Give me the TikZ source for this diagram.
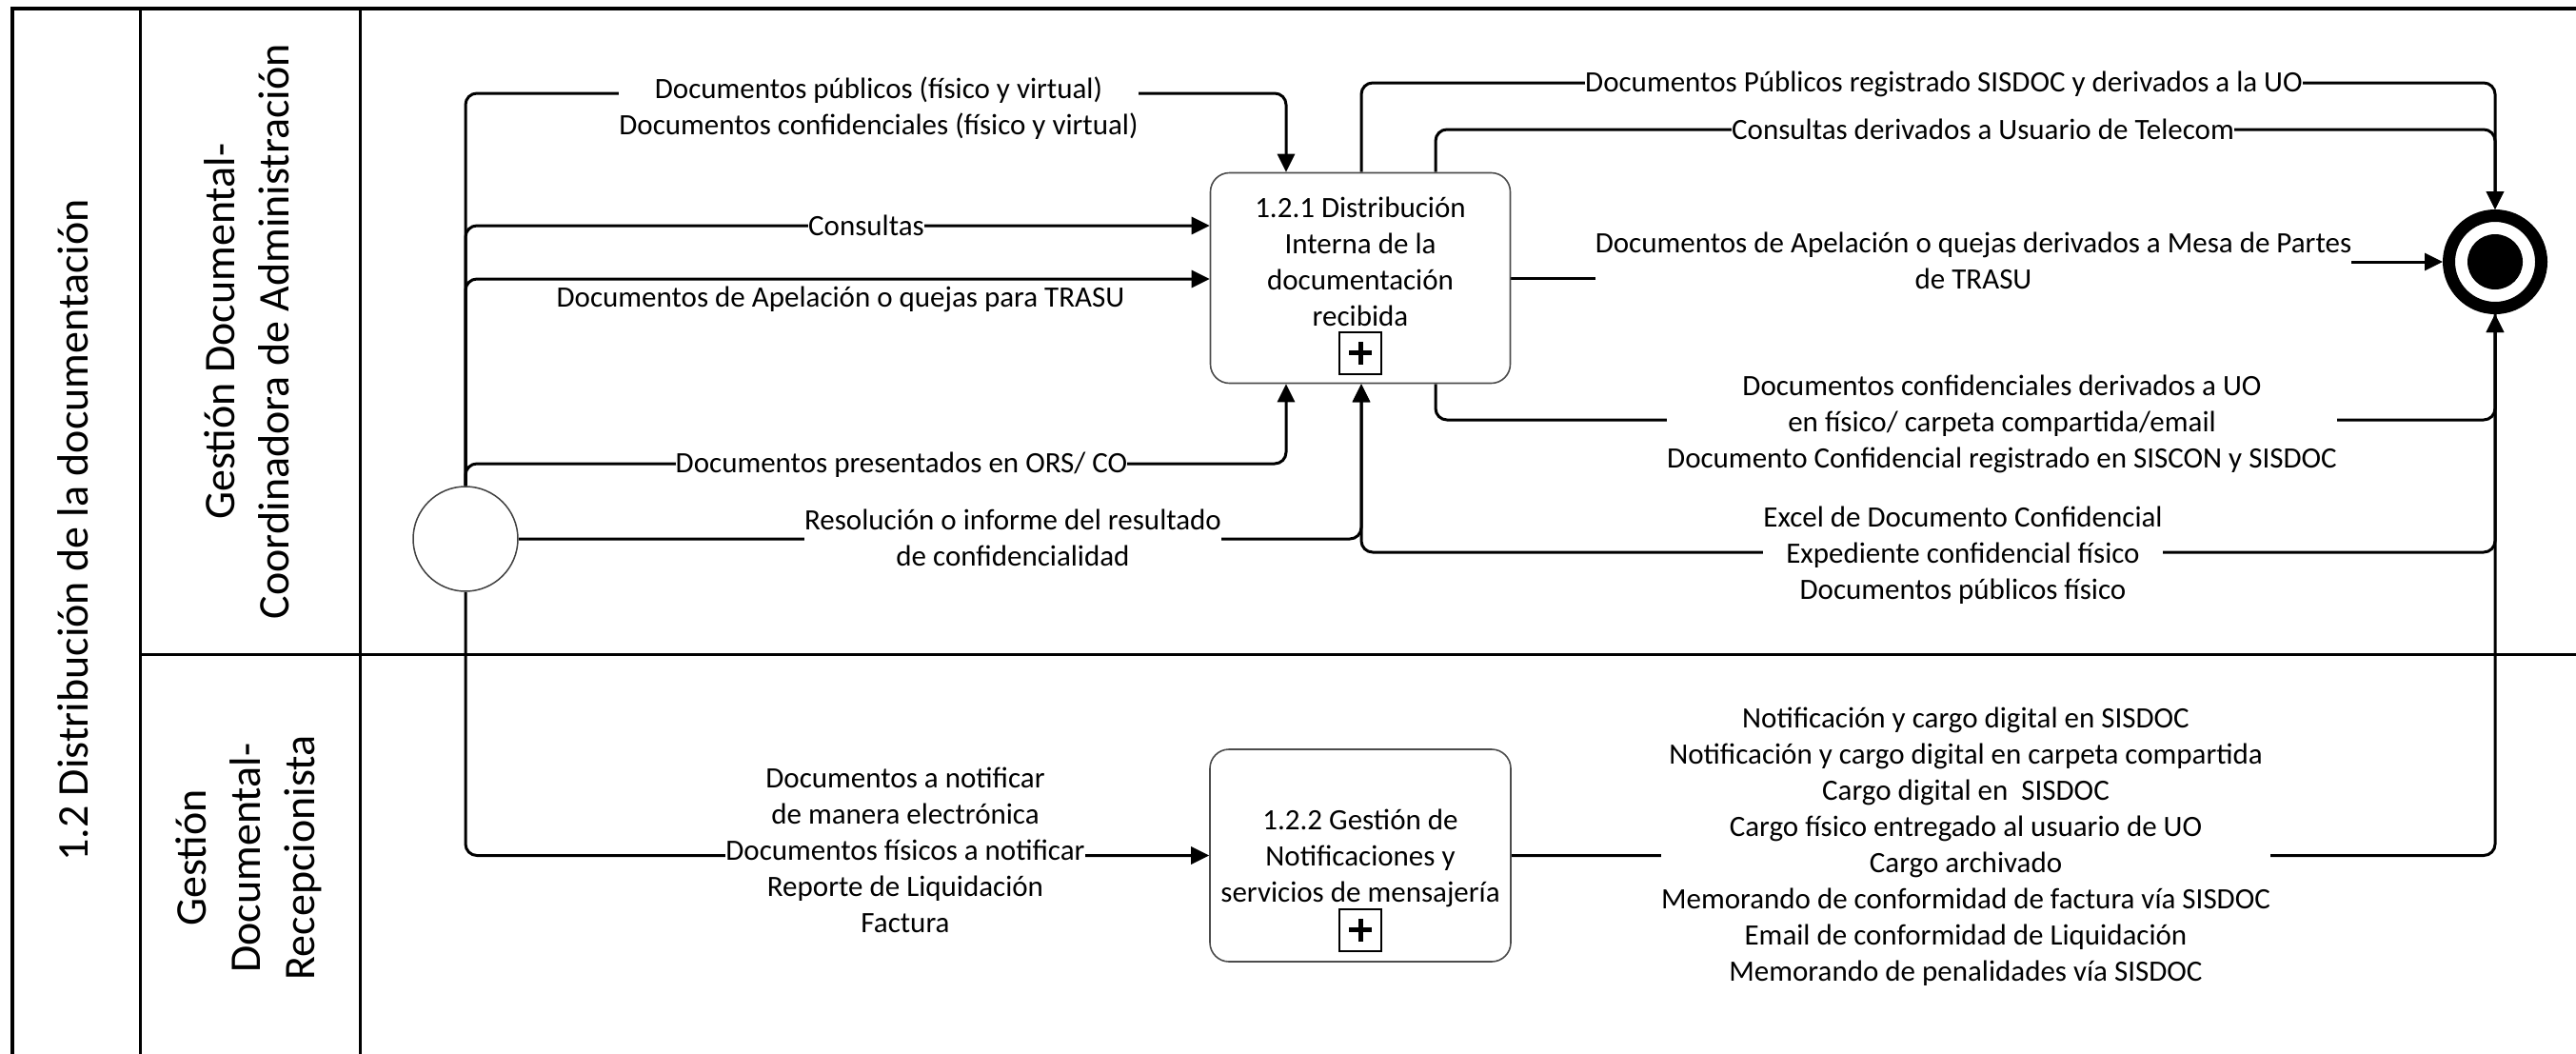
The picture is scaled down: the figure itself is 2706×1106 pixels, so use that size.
\documentclass[tikz,border=0pt]{standalone}
\usepackage{fontspec}
\setmainfont{Carlito}
\usetikzlibrary{arrows.meta}
\pgfdeclarelayer{background}
\pgfsetlayers{background,main}
\begin{document}
\begin{tikzpicture}[x=1pt,y=-1pt,
  >={Triangle[length=19pt,width=18pt]},
  frameline/.style={line width=3pt,black},
  flow/.style={line width=3pt,rounded corners=12pt},
  arr/.style={->},
  lbl/.style={fill=white,inner xsep=0pt,inner ysep=1pt,align=center,
    font=\fontsize{31}{38}\selectfont},
  plainlbl/.style={inner sep=0pt,align=center,font=\fontsize{31}{38}\selectfont},
  lanetxt/.style={rotate=90,inner sep=0pt,align=center,font=\fontsize{46}{57}\selectfont},
  task/.style={draw=black!70,line width=1.6pt,rounded corners=20pt,
    minimum width=315pt,minimum height=221pt,inner sep=0pt},
  plusbox/.style={draw=black,line width=2pt,minimum size=44pt,inner sep=0pt},
  plusbar/.style={line width=5pt}
]
\useasboundingbox (0,0) rectangle (2706,1106);

% ---------- nodes ----------
\node[circle,draw=black!75,line width=1.5pt,minimum size=110pt,inner sep=0pt] (start) at (489,566) {};
\node[circle,draw=black,line width=13pt,minimum size=97pt,inner sep=0pt] (end) at (2621,275) {};
\node[circle,fill=black,minimum size=58pt,inner sep=0pt] (enddot) at (2621,275) {};

\node[task] (box1) at (1429,292) {};
\node[plainlbl] (box1t) at (1429,275) {1.2.1 Distribución\\Interna de la\\documentación\\recibida};
\node[plusbox] (plus1) at (1429,370.5) {};
\draw[plusbar] ([xshift=-12pt]plus1.center) -- ([xshift=12pt]plus1.center);
\draw[plusbar] ([yshift=-12pt]plus1.center) -- ([yshift=12pt]plus1.center);

\node[task,minimum width=316pt,minimum height=223pt] (box2) at (1429,898.5) {};
\node[plainlbl] (box2t) at (1429,901) {1.2.2 Gestión de\\Notificaciones y\\servicios de mensajería};
\node[plusbox] (plus2) at (1429,976.5) {};
\draw[plusbar] ([xshift=-12pt]plus2.center) -- ([xshift=12pt]plus2.center);
\draw[plusbar] ([yshift=-12pt]plus2.center) -- ([yshift=12pt]plus2.center);

% lane titles
\node[lanetxt] (title) at (77,557) {1.2 Distribución de la documentación};
\node[lanetxt] (lane1) at (259,348) {Gestión Documental-\\Coordinadora de Administración};
\node[lanetxt] (lane2) at (261,901) {Gestión\\Documental-\\Recepcionista};

% labels
\node[lbl] (L1) at (923,114) {Documentos públicos (físico y virtual)\\Documentos confidenciales (físico y virtual)};
\node[lbl] (L2) at (910,237) {Consultas};
\node[plainlbl] (L3) at (883,314) {Documentos de Apelación o quejas para TRASU};
\node[lbl] (L4) at (947,488) {Documentos presentados en ORS/ CO};
\node[lbl] (L5) at (1064,564.5) {Resolución o informe del resultado\\de confidencialidad};
\node[lbl] (L6) at (2042,88) {Documentos Públicos registrado SISDOC y derivados a la UO};
\node[lbl] (L7) at (2083,136) {Consultas derivados a Usuario de Telecom};
\node[lbl] (L8) at (2073,274) {Documentos de Apelación o quejas derivados a Mesa de Partes\\de TRASU};
\node[lbl] (L9) at (2103,445) {Documentos confidenciales derivados a UO\\en físico/ carpeta compartida/email\\Documento Confidencial registrado en SISCON y SISDOC};
\node[lbl] (L10) at (2062,583) {Excel de Documento Confidencial\\Expediente confidencial físico\\Documentos públicos físico};
\node[lbl] (L11) at (951,893) {Documentos a notificar\\de manera electrónica\\Documentos físicos a notificar\\Reporte de Liquidación\\Factura};
\node[lbl] (L12) at (2065,889.5) {Notificación y cargo digital en SISDOC\\Notificación y cargo digital en carpeta compartida\\Cargo digital en\ \ SISDOC\\Cargo físico entregado al usuario de UO\\Cargo archivado\\Memorando de conformidad de factura vía SISDOC\\Email de conformidad de Liquidación\\Memorando de penalidades vía SISDOC};

% ---------- coordinates ----------
\coordinate (b1tL) at ([xshift=-78pt]box1.north);
\coordinate (b1tM) at ([xshift=1pt]box1.north);
\coordinate (b1tR) at ([xshift=79pt]box1.north);
\coordinate (b1bL) at ([xshift=-78pt]box1.south);
\coordinate (b1bM) at ([xshift=1pt]box1.south);
\coordinate (b1bR) at ([xshift=79pt]box1.south);
\coordinate (yTop) at (0,98);
\coordinate (yCons) at (0,237);
\coordinate (yTrasu) at (0,293);
\coordinate (yOrs) at (0,487);
\coordinate (yPubOut) at (0,87);
\coordinate (yConsOut) at (0,136);
\coordinate (yConfOut) at (0,441);
\coordinate (yExcel) at (0,580);

\begin{pgfonlayer}{background}
% frame
\draw[frameline,line width=3.5pt] (2720,9) -- (13,9) -- (13,1120);
\draw[frameline] (147,9) -- (147,1120);
\draw[frameline] (378,9) -- (378,1120);
\draw[frameline] (147,687) -- (2720,687);

% inputs of 1.2.1
\draw[flow,arr] (start.north) |- (b1tL |- yTop) -- (b1tL);
\draw[flow,arr] (start.north) |- (box1.west |- yCons);
\draw[flow,arr] (start.north) |- (box1.west |- yTrasu);
\draw[flow,arr] (start.north) |- (b1bL |- yOrs) -- (b1bL);
\draw[flow,arr] (start.east) -| (b1bM);
% input of 1.2.2
\draw[flow,arr] (start.south) |- (box2.west);

% outputs of 1.2.1
\draw[flow,arr] (b1tM) |- (end.north |- yPubOut) -- (end.north);
\draw[flow,arr] (b1tR) |- (end.north |- yConsOut) -- (end.north);
\draw[flow] (box1.east) -- (box1.east -| L8.west);
\draw[flow,arr] (L8.east |- end.west) -- (end.west);
\draw[flow,arr] (b1bR) |- (end.south |- yConfOut) -- (end.south);
\draw[flow,arr] (end.south) |- (b1bM |- yExcel) -- (b1bM);
% output of 1.2.2
\draw[flow,arr] (box2.east) -| (end.south);
\end{pgfonlayer}
\end{tikzpicture}
\end{document}
